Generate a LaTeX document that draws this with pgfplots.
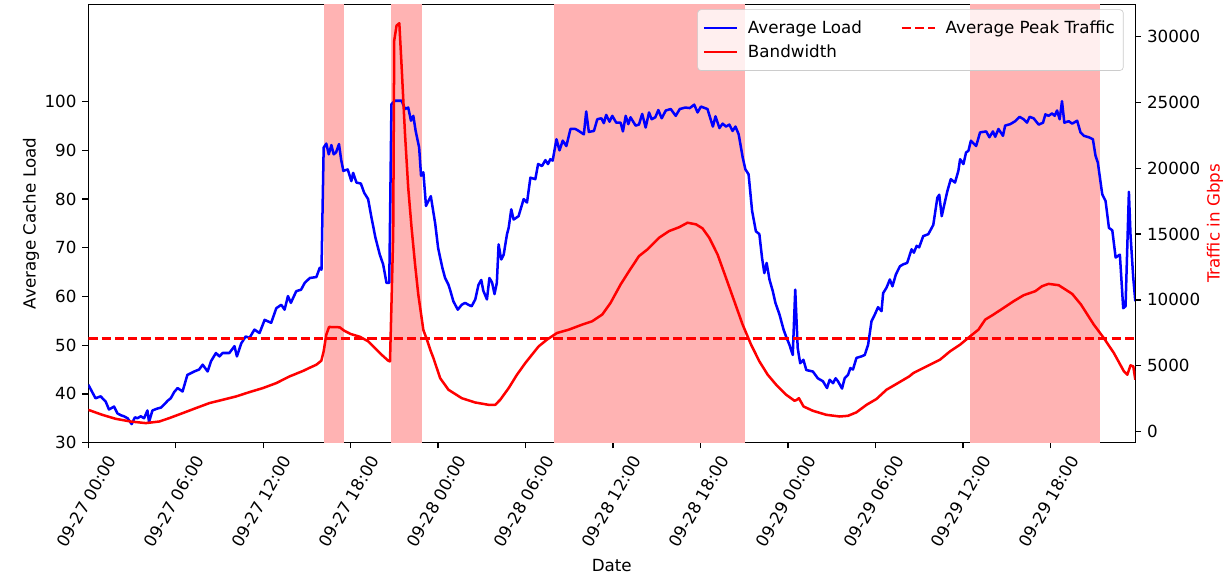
\documentclass[border=0pt]{standalone}
\usepackage{fontspec}
\setmainfont{DejaVu Sans}
\usepackage{pgfplots}
\pgfplotsset{compat=1.18}
\definecolor{loadblue}{RGB}{0,0,255}
\definecolor{bwred}{RGB}{255,0,0}
\definecolor{spanred}{RGB}{255,179,179}

% hours since 09-27 00:00
\pgfplotstableread{
h v
0.00 41.9
0.25 40.5
0.50 39.1
0.85 39.5
1.20 38.4
1.42 36.8
1.77 37.4
2.00 36.0
2.25 35.6
2.45 35.4
2.70 35.0
2.98 33.8
3.20 35.2
3.37 35.0
3.60 35.4
3.83 35.0
4.06 36.6
4.17 34.2
4.40 36.6
4.75 37.0
5.00 37.2
5.20 37.8
5.45 38.6
5.66 39.1
5.90 40.4
6.13 41.2
6.47 40.5
6.80 43.9
7.27 44.6
7.60 45.0
7.85 46.0
8.19 44.6
8.42 46.7
8.76 48.4
9.00 47.7
9.22 48.4
9.68 48.4
10.03 49.8
10.20 47.7
10.50 50.4
10.80 51.8
11.06 51.5
11.40 53.2
11.75 52.5
12.10 55.2
12.55 54.6
12.90 57.6
13.24 58.3
13.47 57.3
13.70 60.1
13.90 58.7
14.27 61.1
14.60 61.4
14.85 62.8
15.20 63.8
15.65 64.0
15.88 65.9
16.00 65.5
16.15 90.6
16.33 91.4
16.50 89.2
16.68 91.1
16.84 89.2
17.00 89.6
17.20 91.3
17.36 87.9
17.50 85.8
17.80 86.1
18.05 83.7
18.17 85.4
18.40 83.4
18.70 83.2
18.93 81.3
19.20 80.0
19.43 76.2
19.70 72.1
20.00 68.6
20.23 66.6
20.46 62.8
20.65 62.8
20.80 99.5
21.04 100.2
21.50 100.2
21.73 98.5
21.95 98.8
22.14 96.1
22.30 97.1
22.46 94.0
22.70 90.6
22.83 84.8
22.99 85.5
23.17 78.6
23.50 80.6
23.80 75.0
24.00 70.0
24.14 68.0
24.30 65.8
24.48 63.8
24.70 62.5
24.82 61.4
25.05 59.0
25.35 57.3
25.62 58.3
25.85 58.7
26.08 58.3
26.30 58.0
26.55 59.4
26.77 62.4
26.96 63.4
27.10 61.2
27.35 59.4
27.52 63.8
27.70 62.9
27.87 60.5
28.03 62.8
28.15 70.7
28.33 67.6
28.50 68.6
28.72 72.7
28.84 74.1
29.02 77.9
29.18 75.8
29.52 76.5
29.87 80.0
30.10 79.3
30.33 84.4
30.67 84.1
30.86 87.2
31.13 86.8
31.36 88.0
31.54 87.2
31.70 88.2
31.86 87.9
32.12 92.3
32.33 90.0
32.55 92.0
32.80 90.9
33.08 94.4
33.42 94.4
33.65 94.0
34.00 93.3
34.16 98.0
34.34 93.8
34.69 94.0
34.92 96.4
35.20 96.6
35.37 95.6
35.53 97.3
35.76 95.9
35.95 97.1
36.22 95.7
36.52 95.7
36.68 93.9
36.87 97.1
37.05 95.4
37.20 96.8
37.55 95.1
37.78 95.3
38.00 97.5
38.24 94.7
38.47 97.8
38.65 96.4
38.90 96.8
39.11 98.3
39.34 96.6
39.62 98.2
39.96 98.5
40.30 97.1
40.58 98.5
40.95 98.8
41.27 98.7
41.57 99.4
41.80 97.8
42.03 99.0
42.48 98.5
42.85 94.9
43.03 97.0
43.30 94.6
43.52 95.5
43.75 94.9
43.98 95.3
44.20 94.0
44.40 94.9
44.62 93.3
44.90 88.5
45.08 86.1
45.30 85.1
45.54 77.6
45.80 73.4
46.04 72.8
46.22 68.0
46.38 64.8
46.54 66.9
46.73 63.5
46.96 61.1
47.14 58.7
47.42 56.3
47.70 53.2
47.87 51.8
48.10 50.1
48.33 48.0
48.50 61.4
48.67 49.4
48.84 46.3
49.06 47.0
49.26 44.9
49.71 44.6
50.05 43.2
50.40 42.6
50.68 41.2
50.86 42.9
51.09 42.2
51.27 43.2
51.43 42.6
51.71 41.1
51.89 43.2
52.12 43.9
52.28 45.3
52.46 45.0
52.70 47.4
53.04 47.7
53.27 48.0
53.50 50.1
53.73 54.9
53.96 56.3
54.18 57.8
54.42 57.0
54.53 60.7
54.76 61.8
54.99 63.5
55.17 62.1
55.40 64.5
55.68 66.2
55.90 66.6
56.18 66.9
56.48 69.7
56.64 69.0
56.83 70.4
57.00 70.1
57.28 72.4
57.63 72.8
57.97 74.7
58.25 80.3
58.38 80.9
58.55 76.5
58.78 79.6
58.94 81.7
59.17 84.1
59.46 83.4
59.69 85.8
59.81 88.2
60.04 87.2
60.22 89.6
60.38 89.9
60.55 92.0
60.91 90.9
61.18 93.7
61.60 93.9
61.82 92.7
62.06 93.9
62.22 92.8
62.44 94.4
62.75 93.0
62.90 95.1
63.25 95.4
63.59 96.0
63.89 96.9
64.17 96.4
64.40 95.7
64.58 96.9
64.85 96.6
65.20 95.3
65.50 95.7
65.66 97.4
65.88 97.1
66.12 97.6
66.30 97.1
66.46 98.2
66.64 96.4
66.80 100.1
66.96 95.7
67.26 96.0
67.50 95.5
67.84 96.1
68.07 93.7
68.30 93.0
68.64 92.7
68.92 92.3
69.10 88.9
69.26 87.5
69.56 81.0
69.79 79.6
70.02 74.1
70.25 73.6
70.48 68.0
70.77 68.6
71.00 57.6
71.16 58.0
71.39 81.5
71.50 72.7
71.69 63.8
71.83 59.0
}\loadtable

\pgfplotstableread{
h t
0.00 1650
0.96 1270
1.88 967
2.91 761
3.95 640
4.87 761
5.55 1015
6.47 1396
7.38 1777
8.30 2157
9.22 2411
10.14 2665
11.06 2995
11.98 3300
12.90 3680
13.81 4188
14.73 4600
15.20 4850
15.65 5076
15.99 5380
16.15 6091
16.33 7360
16.52 7944
17.25 7918
17.55 7665
18.00 7410
18.63 7200
19.20 6853
19.66 6345
20.12 5838
20.58 5380
20.70 5330
20.80 9647
20.92 14977
20.99 29695
21.15 30837
21.34 31012
21.50 27663
21.73 22590
21.95 18524
22.18 15479
22.42 12693
22.64 10409
22.99 7700
23.20 7083
23.50 6100
23.68 5580
24.14 4058
24.71 3175
25.62 2535
26.54 2208
27.46 2030
27.92 2030
28.26 2411
28.84 3297
29.41 4317
29.98 5200
30.44 5840
30.90 6472
31.47 6980
32.16 7487
32.97 7740
33.88 8120
34.57 8375
35.26 8884
35.83 9770
36.52 11170
37.10 12182
37.78 13325
38.36 13833
39.16 14720
39.85 15228
40.54 15520
41.11 15860
41.69 15738
42.14 15433
42.60 14720
43.17 13454
43.75 11672
44.32 9898
44.89 8124
45.47 6601
46.04 5330
46.61 4317
47.19 3556
47.88 2794
48.45 2337
48.60 2400
48.75 2535
49.07 1904
49.71 1576
50.63 1271
51.55 1142
52.12 1195
52.70 1460
53.39 2030
54.07 2470
54.76 3175
55.45 3620
56.32 4188
56.60 4441
57.51 4949
58.43 5457
59.12 6091
59.81 6600
60.50 7233
61.07 7740
61.53 8500
62.10 8885
62.79 9390
63.48 9898
64.17 10355
64.97 10660
65.43 11040
65.88 11216
66.57 11116
67.03 10790
67.50 10455
68.10 9650
68.98 8124
69.67 7100
70.36 5960
71.05 4568
71.28 4317
71.50 5025
71.69 4950
71.83 3937
}\bwtable

\begin{document}
\begin{tikzpicture}
\pgfplotsset{
  every axis/.append style={
    width=626.4pt, height=262.2pt, scale only axis,
    xmin=0, xmax=71.83,
    font=\fontsize{10}{12}\selectfont,
    tick label style={font=\fontsize{10}{12}\selectfont},
    /pgf/number format/assume math mode=true,
    tick align=outside, major tick length=3.5pt,
    axis line style={line width=0.8pt}, tick style={line width=0.8pt, black},
  },
}
\begin{axis}[
  ymin=30, ymax=120, ytick={30,40,...,100},
  xtick={0,6,...,66},
  xticklabels={09-27 00:00,09-27 06:00,09-27 12:00,09-27 18:00,09-28 00:00,09-28 06:00,09-28 12:00,09-28 18:00,09-29 00:00,09-29 06:00,09-29 12:00,09-29 18:00},
  xtick pos=bottom, ytick pos=left,
  xticklabel style={xshift=16pt, yshift=-2.3pt, rotate=60, anchor=east},
  xlabel={Date}, xlabel style={yshift=2pt},
  ylabel={Average Cache Load},
  ylabel shift=-3.6pt, ylabel style={text height=18pt},
  title={\phantom{x}}, title style={yshift=-6pt, inner sep=0pt, text height=2.4pt, text depth=0pt},
]
\addplot[fill=spanred, draw=none, forget plot] coordinates {(16.15,30) (17.55,30) (17.55,120) (16.15,120)} --cycle;
\addplot[fill=spanred, draw=none, forget plot] coordinates {(20.80,30) (22.92,30) (22.92,120) (20.80,120)} --cycle;
\addplot[fill=spanred, draw=none, forget plot] coordinates {(31.98,30) (45.08,30) (45.08,120) (31.98,120)} --cycle;
\addplot[fill=spanred, draw=none, forget plot] coordinates {(60.50,30) (69.44,30) (69.44,120) (60.50,120)} --cycle;
\addplot[loadblue, line width=1.5pt, line join=round] table[x=h, y=v] {\loadtable};
\end{axis}
\begin{axis}[
  ymin=-840, ymax=32450, ytick={0,5000,...,30000},
  axis x line=none, axis y line*=right, yticklabel pos=right,
  ylabel near ticks,
  ylabel={Traffic in Gbps}, ylabel style={color=bwred, inner ysep=0.5pt},
  scaled y ticks=false,
  yticklabel style={/pgf/number format/1000 sep={}},
  legend columns=2,
  legend image code/.code={\draw[#1] (0pt,0pt) -- (20pt,0pt);},
  legend style={at={(1,1)}, anchor=north east, xshift=-7pt, yshift=-3pt,
    fill=white, fill opacity=0.8, text opacity=1, draw=black!20,
    rounded corners=2pt, legend cell align=left, inner ysep=4.5pt, row sep=1.2pt,
    /tikz/every odd column/.append style={column sep=3.6pt},
    /tikz/every even column/.append style={column sep=21pt}},
]
\addlegendimage{loadblue, line width=1.5pt}
\addlegendentry{Average Load}
\addlegendimage{bwred, line width=1.5pt, dash pattern=on 5.55pt off 2.4pt}
\addlegendentry{Average Peak Traffic}
\addplot[bwred, line width=1.5pt, line join=round] table[x=h, y=t] {\bwtable};
\addlegendentry{Bandwidth}
\addplot[bwred, line width=1.5pt, dash pattern=on 5.55pt off 2.4pt, forget plot] coordinates {(0,7083) (71.83,7083)};
\end{axis}
\end{tikzpicture}
\end{document}
